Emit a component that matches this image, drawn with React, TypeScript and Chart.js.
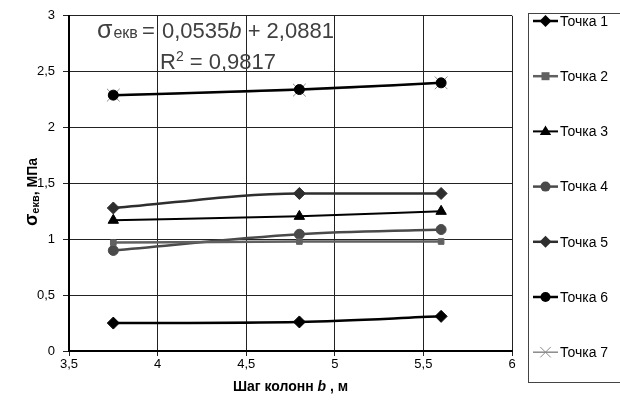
import React, { useEffect, useRef } from "react";
import { Chart, registerables } from "chart.js";

Chart.register(...registerables);

// ---- data ----
const spans = [3.75, 4.8, 5.6];
const seriesNames = ["Точка 1", "Точка 2", "Точка 3", "Точка 4", "Точка 5", "Точка 6", "Точка 7"];
const point1 = [0.25, 0.26, 0.31];
const point2 = [0.97, 0.98, 0.98];
const point3 = [1.17, 1.205, 1.25];
const point4 = [0.9, 1.045, 1.087];
const point5 = [1.28, 1.41, 1.41];
const point6 = [2.29, 2.34, 2.4];
const point7 = [2.29, 2.335, 2.4];
const xTickValues = [3.5, 4, 4.5, 5, 5.5, 6];
const yTickValues = [0, 0.5, 1, 1.5, 2, 2.5, 3];
const trendSlope = "0,0535";
const trendIntercept = "2,0881";
const trendR2 = "0,9817";

const FONT = "Arial, 'Liberation Sans', sans-serif";

const styles = [
  { color: "#000000", style: "rectRot", radius: 6, width: 2.5 },
  { color: "#606060", style: "rect", radius: 4, width: 2.5 },
  { color: "#000000", style: "triangle", radius: 6, width: 2 },
  { color: "#4a4a4a", style: "circle", radius: 5, width: 2.5 },
  { color: "#2e2e2e", style: "rectRot", radius: 6, width: 2.5 },
  { color: "#000000", style: "circle", radius: 5, width: 2.5 },
  { color: "#8a8a8a", style: "crossRot", radius: 9, width: 1.5 },
];

const allSeries = [point1, point2, point3, point4, point5, point6, point7];

const fmt = (v: number) => String(v).replace(".", ",");

function marker(ctx: CanvasRenderingContext2D, style: string, r: number, x: number, y: number, color: string) {
  ctx.save();
  ctx.fillStyle = color;
  ctx.strokeStyle = color;
  ctx.lineWidth = 1;
  ctx.beginPath();
  if (style === "rectRot") {
    ctx.moveTo(x, y - r); ctx.lineTo(x + r, y); ctx.lineTo(x, y + r); ctx.lineTo(x - r, y); ctx.closePath();
    ctx.fill();
  } else if (style === "rect") {
    ctx.rect(x - r, y - r, 2 * r, 2 * r); ctx.fill();
  } else if (style === "triangle") {
    ctx.moveTo(x, y - r); ctx.lineTo(x + r * 0.95, y + r * 0.6); ctx.lineTo(x - r * 0.95, y + r * 0.6); ctx.closePath(); ctx.fill();
  } else if (style === "circle") {
    ctx.arc(x, y, r, 0, Math.PI * 2); ctx.fill();
  } else if (style === "crossRot") {
    const d = r * 0.75;
    ctx.moveTo(x - d, y - d); ctx.lineTo(x + d, y + d); ctx.moveTo(x + d, y - d); ctx.lineTo(x - d, y + d); ctx.stroke();
  }
  ctx.restore();
}

const customDraw = {
  id: "customDraw",
  afterDraw(chart: any) {
    const ctx: CanvasRenderingContext2D = chart.ctx;
    const area = chart.chartArea;
    ctx.save();

    // legend box
    const lx = 528.5, ly = 13.5, lw = 110, lh = 369;
    ctx.strokeStyle = "#444";
    ctx.lineWidth = 1;
    ctx.strokeRect(lx, ly, lw, lh);
    for (let i = 0; i < seriesNames.length; i++) {
      const st = styles[i];
      const y = 21 + i * 55.2;
      ctx.strokeStyle = st.color;
      ctx.lineWidth = st.width;
      ctx.beginPath();
      ctx.moveTo(533, y);
      ctx.lineTo(558, y);
      ctx.stroke();
      marker(ctx, st.style, st.style === "crossRot" ? 7 : st.radius, 545.5, y, st.color);
      ctx.fillStyle = "#000";
      ctx.font = `14px ${FONT}`;
      ctx.textAlign = "left";
      ctx.textBaseline = "middle";
      ctx.fillText(seriesNames[i], 560, y + 1);
    }

    // y axis title
    ctx.save();
    ctx.translate(32, 192);
    ctx.rotate(-Math.PI / 2);
    ctx.fillStyle = "#000";
    ctx.textBaseline = "alphabetic";
    ctx.textAlign = "left";
    const parts = [
      { t: "σ", f: `bold 18px ${FONT}`, dy: 0 },
      { t: "екв", f: `bold 11px ${FONT}`, dy: 2 },
      { t: ", МПа", f: `bold 14px ${FONT}`, dy: 0 },
    ];
    let tw = 0;
    for (const p of parts) { ctx.font = p.f; tw += ctx.measureText(p.t).width; }
    let cx = -tw / 2;
    for (const p of parts) {
      ctx.font = p.f;
      ctx.fillText(p.t, cx, 5 + p.dy);
      cx += ctx.measureText(p.t).width;
    }
    ctx.restore();

    // x axis title
    {
      const xparts = [
        { t: "Шаг колонн ", f: `bold 14px ${FONT}` },
        { t: "b", f: `bold italic 14px ${FONT}` },
        { t: " , м", f: `bold 14px ${FONT}` },
      ];
      let w = 0;
      for (const p of xparts) { ctx.font = p.f; w += ctx.measureText(p.t).width; }
      let x = (area.left + area.right) / 2 - w / 2;
      ctx.fillStyle = "#000";
      ctx.textBaseline = "middle";
      ctx.textAlign = "left";
      for (const p of xparts) {
        ctx.font = p.f;
        ctx.fillText(p.t, x, 387);
        x += ctx.measureText(p.t).width;
      }
    }

    // trendline label
    {
      ctx.fillStyle = "#404040";
      ctx.textBaseline = "alphabetic";
      ctx.textAlign = "left";
      const big = 22;
      ctx.font = `25px ${FONT}`;
      ctx.fillText("σ", 97, 38);
      const sw = ctx.measureText("σ").width;
      ctx.font = `16px ${FONT}`;
      ctx.fillText("екв", 97 + sw + 1, 38);
      ctx.font = `${big}px ${FONT}`;
      ctx.fillText("=", 142, 38);
      const p1 = [
        { t: trendSlope, f: `${big}px ${FONT}` },
        { t: "b", f: `italic ${big}px ${FONT}` },
        { t: " + " + trendIntercept, f: `${big}px ${FONT}` },
      ];
      let x = 162;
      for (const p of p1) {
        ctx.font = p.f;
        ctx.fillText(p.t, x, 38);
        x += ctx.measureText(p.t).width;
      }
      const p2 = [
        { t: "R", f: `${big}px ${FONT}`, dy: 0 },
        { t: "2", f: `14px ${FONT}`, dy: -8 },
        { t: " = " + trendR2, f: `${big}px ${FONT}`, dy: 0 },
      ];
      x = 160;
      for (const p of p2) {
        ctx.font = p.f;
        ctx.fillText(p.t, x, 69 + p.dy);
        x += ctx.measureText(p.t).width;
      }
    }

    ctx.restore();
  },
};

export default function App() {
  const ref = useRef<HTMLCanvasElement | null>(null);

  useEffect(() => {
    document.body.style.margin = "0";
    document.body.style.overflow = "hidden";
    const canvas = ref.current;
    if (!canvas) return;

    const datasets = allSeries.map((arr, i) => ({
      label: seriesNames[i],
      data: arr.map((v, j) => ({ x: spans[j], y: v })),
      borderColor: styles[i].color,
      backgroundColor: styles[i].color,
      borderWidth: styles[i].width,
      pointStyle: styles[i].style as any,
      pointRadius: styles[i].radius,
      pointBorderWidth: 1,
      pointBorderColor: styles[i].color,
      pointBackgroundColor: styles[i].color,
      cubicInterpolationMode: "monotone" as const,
      showLine: true,
      fill: false,
    }));

    const chart = new Chart(canvas, {
      type: "scatter",
      data: { datasets },
      plugins: [customDraw],
      options: {
        animation: false,
        responsive: false,
        maintainAspectRatio: false,
        layout: { padding: { top: 15, right: 108, left: 0, bottom: 0 } },
        plugins: { legend: { display: false }, tooltip: { enabled: false } },
        scales: {
          x: {
            type: "linear",
            min: 3.5,
            max: 6,
            afterBuildTicks: (s: any) => { s.ticks = xTickValues.map((v) => ({ value: v })); },
            afterFit: (s: any) => { s.height = 61; },
            ticks: { callback: (v: any) => fmt(Number(v)), color: "#000", font: { family: FONT, size: 13 }, padding: 1, maxRotation: 0 },
            grid: { color: "#222", lineWidth: 1, tickLength: 5, drawTicks: true },
            border: { color: "#000", width: 2 },
          },
          y: {
            type: "linear",
            min: 0,
            max: 3,
            afterBuildTicks: (s: any) => { s.ticks = yTickValues.map((v) => ({ value: v })); },
            afterFit: (s: any) => { s.width = 69; },
            ticks: { callback: (v: any) => fmt(Number(v)), color: "#000", font: { family: FONT, size: 13 }, padding: 8 },
            grid: { color: "#222", lineWidth: 1, tickLength: 6, drawTicks: true },
            border: { color: "#000", width: 2 },
          },
        },
      },
    });
    return () => chart.destroy();
  }, []);

  return (
    <div style={{ width: 620, height: 412 }}>
      <canvas ref={ref} width={620} height={412} style={{ display: "block" }} />
    </div>
  );
}
